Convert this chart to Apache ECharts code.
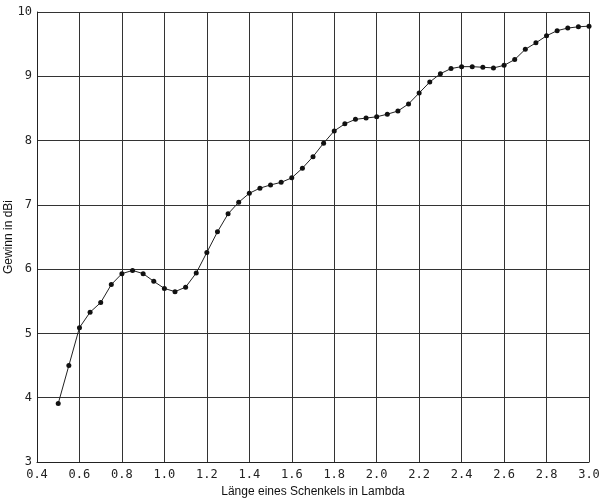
<!DOCTYPE html>
<html>
<head>
<meta charset="utf-8">
<script src="https://cdn.jsdelivr.net/npm/echarts@6/dist/echarts.min.js"></script>
<style>
html,body{margin:0;padding:0;background:#fff;}
#chart{width:604px;height:501px;}
</style>
</head>
<body>
<div id="chart"></div>
<script>
var lengths = [0.5,0.55,0.6,0.65,0.7,0.75,0.8,0.85,0.9,0.95,1.0,1.05,1.1,1.15,1.2,1.25,1.3,1.35,1.4,1.45,1.5,1.55,1.6,1.65,1.7,1.75,1.8,1.85,1.9,1.95,2.0,2.05,2.1,2.15,2.2,2.25,2.3,2.35,2.4,2.45,2.5,2.55,2.6,2.65,2.7,2.75,2.8,2.85,2.9,2.95,3.0];
var gain = [3.91,4.50,5.09,5.33,5.48,5.76,5.93,5.98,5.93,5.81,5.70,5.65,5.72,5.94,6.26,6.58,6.86,7.04,7.18,7.26,7.31,7.35,7.42,7.57,7.75,7.96,8.15,8.26,8.33,8.35,8.37,8.41,8.46,8.57,8.74,8.91,9.04,9.12,9.15,9.15,9.14,9.13,9.17,9.26,9.42,9.52,9.63,9.71,9.75,9.77,9.78];
var xTitle = 'Länge eines Schenkels in Lambda';
var yTitle = 'Gewinn in dBi';

var chart = echarts.init(document.getElementById('chart'), null, {renderer:'canvas'});
var tickFont = {fontFamily:'DejaVu Sans Mono', fontSize:12, color:'#222'};
chart.setOption({
  animation:false,
  backgroundColor:'#fff',
  grid:{left:37, right:15, top:12, bottom:39, containLabel:false, outerBoundsMode:'none'},
  xAxis:{
    type:'value', min:0.4, max:3.0, interval:0.2,
    name:xTitle, nameLocation:'middle', nameGap:24, nameMoveOverlap:false,
    nameTextStyle:{fontFamily:'Liberation Sans', fontSize:12, color:'#111'},
    axisLine:{show:true, onZero:false, lineStyle:{color:'#222', width:1}},
    axisTick:{show:false},
    axisLabel:Object.assign({margin:7, formatter:function(v){return v.toFixed(1);}}, tickFont),
    splitLine:{show:true, lineStyle:{color:'#333', width:1}}
  },
  yAxis:{
    type:'value', min:3, max:10, interval:1,
    name:yTitle, nameLocation:'middle', nameGap:22, nameMoveOverlap:false,
    nameTextStyle:{fontFamily:'Liberation Sans', fontSize:12, color:'#111'},
    axisLine:{show:true, lineStyle:{color:'#222', width:1}},
    axisTick:{show:false},
    axisLabel:Object.assign({margin:5}, tickFont),
    splitLine:{show:true, lineStyle:{color:'#333', width:1}}
  },
  series:[{
    type:'line',
    data:lengths.map(function(x,i){return [x, gain[i]];}),
    symbol:'circle', symbolSize:5,
    lineStyle:{color:'#222', width:1},
    itemStyle:{color:'#111'},
    clip:false
  }]
});
</script>
</body>
</html>
